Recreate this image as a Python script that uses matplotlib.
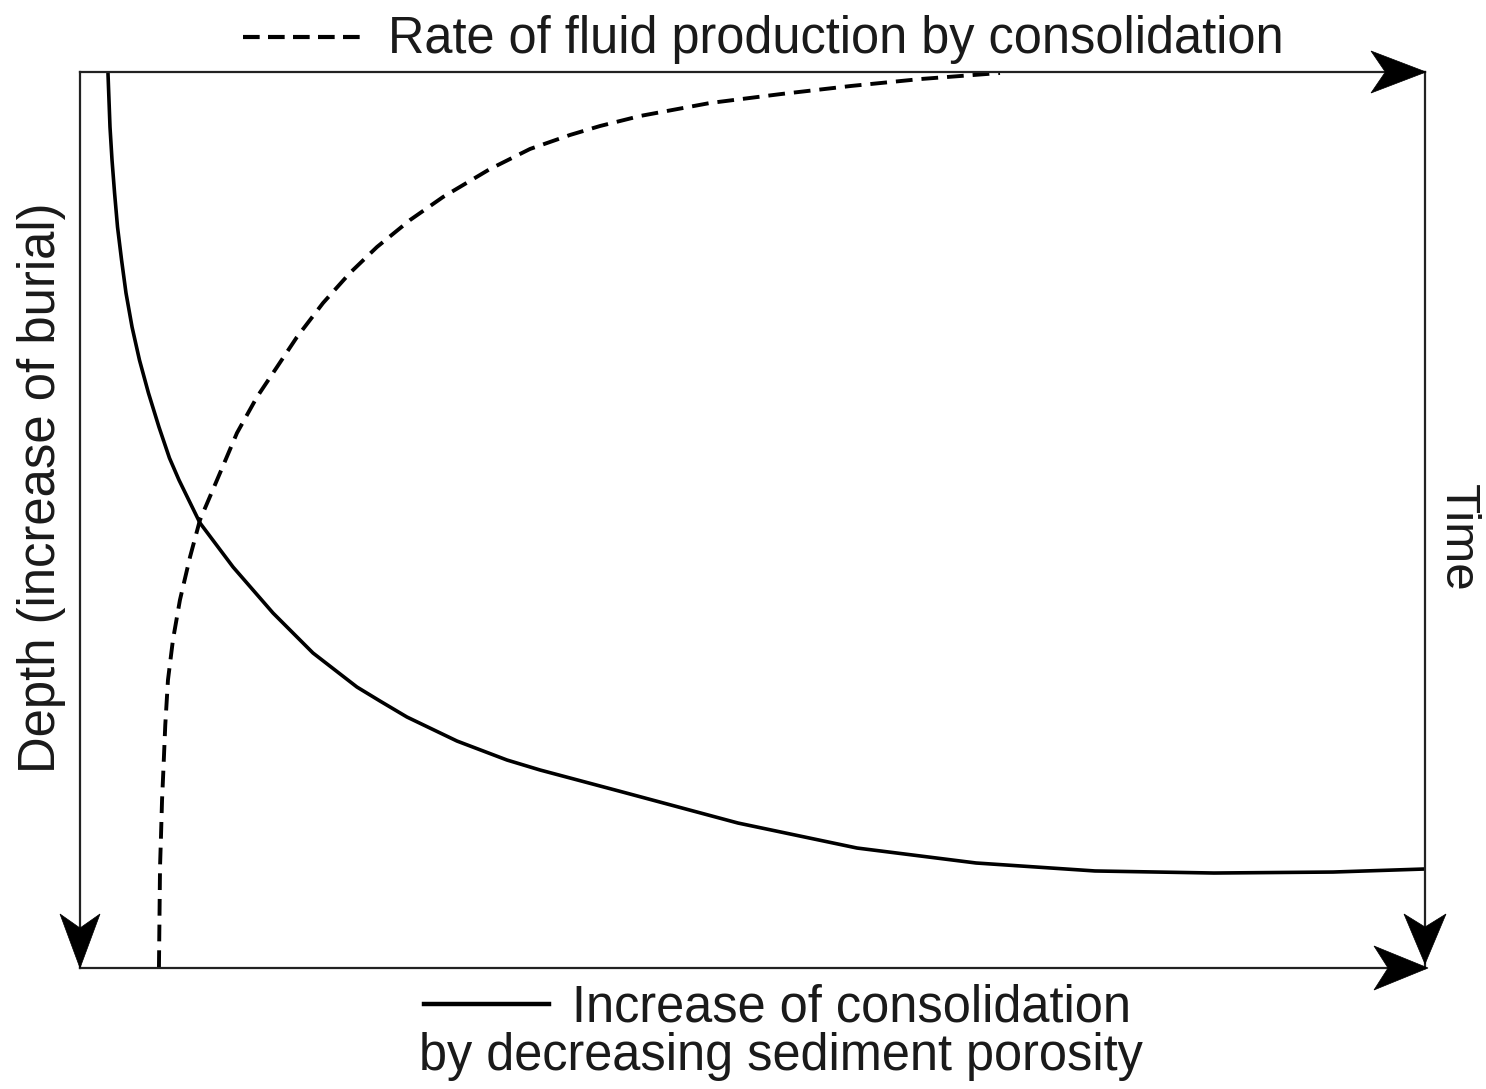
import matplotlib
matplotlib.use("Agg")
import matplotlib.pyplot as plt
from matplotlib.patches import Polygon
from matplotlib.transforms import IdentityTransform
from matplotlib.lines import Line2D

plt.rcParams['font.family'] = ['Liberation Sans', 'DejaVu Sans']

# ---- data (x: consolidation, 0-100 ; depth: 0 at top, 100 at bottom) ----
consol_x = [2.08, 2.23, 2.38, 2.57, 2.79, 3.09, 3.42, 3.87, 4.42, 5.09, 5.87, 6.65,
            7.36, 8.92, 11.38, 14.35, 17.32, 20.59, 22.30, 24.31, 28.03, 31.75, 34.20,
            40.07, 48.92, 57.77, 66.62, 75.46, 84.31, 93.16, 100.0]
consol_depth = [0.11, 6.14, 9.82, 13.50, 17.30, 20.98, 24.67, 28.46, 32.14, 35.83,
                39.62, 43.08, 45.54, 50.33, 55.25, 60.38, 64.84, 68.64, 70.20, 71.99,
                74.67, 76.79, 77.90, 80.25, 83.82, 86.61, 88.28, 89.17, 89.40, 89.29,
                88.95]

fluid_x = [5.87, 5.95, 6.02, 6.10, 6.19, 6.34, 6.54, 6.91, 7.43, 8.18, 8.92, 10.41,
           11.67, 13.16, 14.65, 16.13, 18.07, 20.07, 22.08, 24.54, 26.99, 30.48, 33.46,
           36.43, 38.66, 41.64, 46.84, 52.12, 57.32, 62.53, 68.40]
fluid_depth = [99.89, 88.73, 85.38, 81.25, 78.24, 72.88, 67.86, 63.39, 58.93, 54.13,
               50.00, 44.75, 40.29, 36.27, 32.92, 29.58, 25.78, 22.43, 19.53, 16.52,
               13.95, 10.83, 8.59, 7.03, 6.03, 4.91, 3.46, 2.46, 1.56, 0.78, 0.11]

top_label = "Rate of fluid production by consolidation"
bottom_label_1 = "Increase of consolidation"
bottom_label_2 = "by decreasing sediment porosity"
left_label = "Depth (increase of burial)"
right_label = "Time"

W, H = 1486, 1089
fig = plt.figure(figsize=(W / 100, H / 100), dpi=100)
fig.patch.set_facecolor('white')

L, R, T, B = 80, 1425, 72, 968
ax = fig.add_axes([L / W, 1 - B / H, (R - L) / W, (B - T) / H])
ax.set_xlim(0, 100)
ax.set_ylim(100, 0)
ax.axis('off')

ax.plot(consol_x, consol_depth, color='black', lw=2.6, solid_capstyle='butt',
        solid_joinstyle='round', clip_on=False)
ln, = ax.plot(fluid_x, fluid_depth, color='black', lw=2.8, clip_on=False,
              dash_joinstyle='round')
ln.set_dashes([4.3, 2.3])

# frame lines
frame_kw = dict(color='#222222', lw=1.6, transform=ax.transAxes, clip_on=False)
ax.add_line(Line2D([0, 1], [1, 1], **frame_kw))   # top
ax.add_line(Line2D([0, 1], [0, 0], **frame_kw))   # bottom
ax.add_line(Line2D([0, 0], [0, 1], **frame_kw))   # left
ax.add_line(Line2D([1, 1], [0, 1], **frame_kw))   # right


def px(xp, yp):
    return (xp, H - yp)


def stealth(tip, direction, length=55, half=21, notch=0.74):
    tx, ty = px(*tip)
    if direction == 'right':
        pts = [(tx, ty), (tx - length, ty + half), (tx - length * notch, ty),
               (tx - length, ty - half)]
    else:  # down
        pts = [(tx, ty), (tx - half, ty + length), (tx, ty + length * notch),
               (tx + half, ty + length)]
    fig.patches.append(Polygon(pts, closed=True, facecolor='black', edgecolor='black',
                               lw=0.5, transform=IdentityTransform(), figure=fig))


stealth((1426, 72), 'right')
stealth((1428, 968), 'right', length=54, half=22)
stealth((1425, 964), 'down', length=50, half=21)
stealth((80, 968), 'down', length=54, half=20)

# legend-like text labels
fig.add_artist(Line2D([243 / W, 366 / W], [1 - 37 / H, 1 - 37 / H], color='black',
                      lw=3.0, dashes=[4.0, 2.0]))
fig.text(388 / W, 1 - 53 / H, top_label, fontsize=36.4, ha='left', va='baseline',
         color='#1a1a1a')

fig.add_artist(Line2D([424 / W, 549 / W], [1 - 1004 / H, 1 - 1004 / H], color='black',
                      lw=3.2))
fig.text(572 / W, 1 - 1021 / H, bottom_label_1, fontsize=36.4, ha='left', va='baseline',
         color='#1a1a1a')
fig.text(780.5 / W, 1 - 1070 / H, bottom_label_2, fontsize=36.4, ha='center',
         va='baseline', color='#1a1a1a')

fig.text(42 / W, 1 - 488 / H, left_label, fontsize=36.6, rotation=90, ha='center',
         va='center', color='#1a1a1a')
fig.text(1457 / W, 1 - 538 / H, right_label, fontsize=35.5, rotation=-90, ha='center',
         va='center', color='#1a1a1a')

fig.savefig('out.png', dpi=100, facecolor='white')
